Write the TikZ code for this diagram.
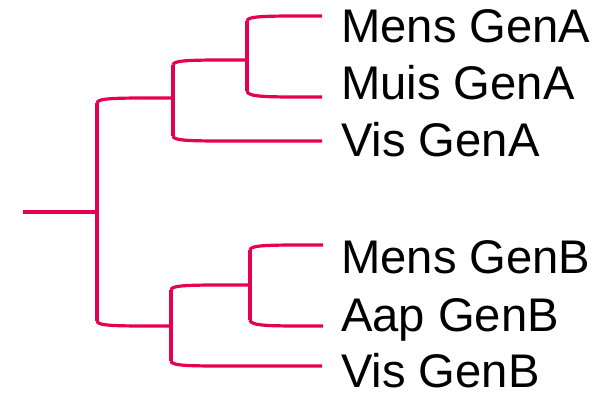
\documentclass[tikz,border=0pt]{standalone}
\usepackage{fontspec}
\setmainfont{Liberation Sans}
\usetikzlibrary{calc}
\definecolor{takrood}{RGB}{230,0,82}
\tikzset{
tak/.style={draw=takrood,line width=3.2pt},
blad/.style={anchor=base west,inner sep=0pt,font=\fontsize{47.2}{56}\selectfont}
}
\providecommand{\Tak}[2]{
\draw[tak] (#1) .. controls (#1 |- #2) and ($(#1 |- #2)+(20,0)$) .. ($(#1 |- #2)+(60,0)$) -- (#2);
}

\begin{document}
\begin{tikzpicture}[x=1pt,y=-1pt]
\useasboundingbox (0,0) rectangle (600,393);
% stam
\coordinate (wortel) at (23,212);
\coordinate (v0) at (97,212);
\coordinate (v0boven) at (97,103);
\coordinate (v0onder) at (97,321);
% GenA
\coordinate (a) at (173,98);
\coordinate (aboven) at (173,65);
\coordinate (aonder) at (173,136);
\coordinate (aa) at (247,60);
\coordinate (aaboven) at (247,21);
\coordinate (aaonder) at (247,91);
% GenB
\coordinate (b) at (171,326);
\coordinate (bboven) at (171,290);
\coordinate (bonder) at (171,361);
\coordinate (bb) at (250,285);
\coordinate (bbboven) at (250,250);
\coordinate (bbonder) at (250,320);
% bladeinden
\coordinate (mensA) at (322,16);
\coordinate (muisA) at (322,97);
\coordinate (visA) at (322,141);
\coordinate (mensB) at (323,245);
\coordinate (aapB) at (323,326);
\coordinate (visB) at (322,366);

\draw[tak] (wortel) -- (v0);
\draw[tak] (v0boven) -- (v0onder);
\Tak{v0boven}{a}\Tak{v0onder}{b}
\draw[tak] (aboven) -- (aonder);
\Tak{aboven}{aa}\Tak{aonder}{visA}
\draw[tak] (aaboven) -- (aaonder);
\Tak{aaboven}{mensA}\Tak{aaonder}{muisA}
\draw[tak] (bboven) -- (bonder);
\Tak{bboven}{bb}\Tak{bonder}{visB}
\draw[tak] (bbboven) -- (bbonder);
\Tak{bbboven}{mensB}\Tak{bbonder}{aapB}

\node[blad] (lmensA) at (341,43) {Mens GenA};
\node[blad] (lmuisA) at (341,100) {Muis GenA};
\node[blad] (lvisA) at (341,157) {Vis GenA};
\node[blad] (lmensB) at (341,273) {Mens GenB};
\node[blad] (laapB) at (341,331) {Aap GenB};
\node[blad] (lvisB) at (341,387) {Vis GenB};
\end{tikzpicture}
\end{document}
